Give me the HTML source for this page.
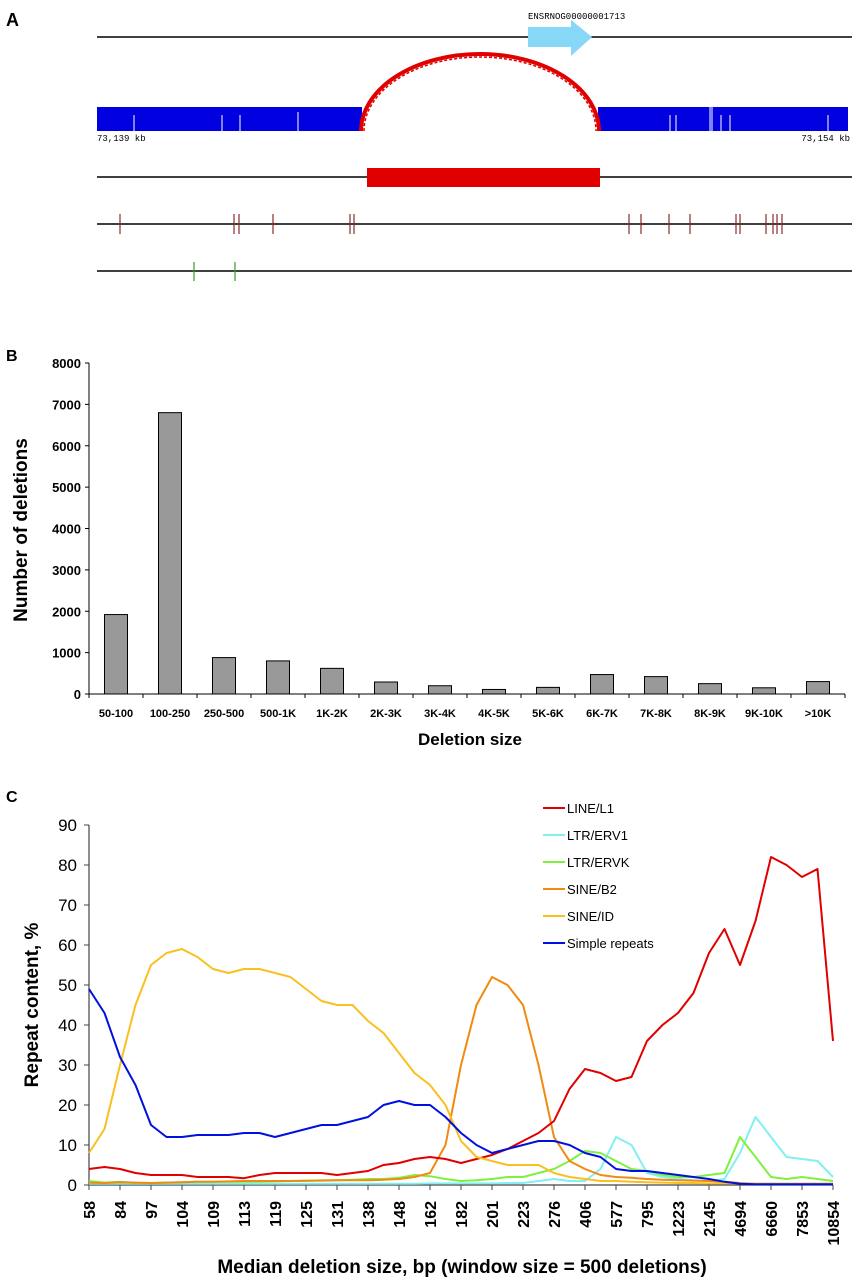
<!DOCTYPE html>
<html><head><meta charset="utf-8"><style>
html,body{margin:0;padding:0;background:#fff;}
svg{display:block;font-family:"Liberation Sans",Arial,sans-serif;}
</style></head><body>
<svg id="fig" width="852" height="1280" viewBox="0 0 852 1280" xmlns="http://www.w3.org/2000/svg">
<!-- Panel A -->
<g>
<text x="6" y="26" font-size="18" font-weight="bold">A</text>
<line x1="97" y1="37" x2="852" y2="37" stroke="#000" stroke-width="1.5"/>
<polygon points="528,27 571,27 571,20 592,37 571,56 571,47 528,47" fill="#87d7f7"/>
<text x="528" y="19" font-size="9" font-family="Liberation Mono,monospace">ENSRNOG00000001713</text>
<rect x="97" y="107" width="265" height="24" fill="#0000e0"/>
<rect x="598" y="107" width="250" height="24" fill="#0000e0"/>
<g stroke="#fff" stroke-width="1">
<line x1="134" y1="115" x2="134" y2="131"/><line x1="222" y1="115" x2="222" y2="131"/><line x1="240" y1="115" x2="240" y2="131"/><line x1="298" y1="112" x2="298" y2="131"/>
<line x1="670" y1="115" x2="670" y2="131"/><line x1="676" y1="115" x2="676" y2="131"/><line x1="710" y1="107" x2="710" y2="131"/><line x1="712" y1="107" x2="712" y2="131"/><line x1="721" y1="115" x2="721" y2="131"/><line x1="730" y1="115" x2="730" y2="131"/><line x1="828" y1="115" x2="828" y2="131"/>
</g>
<path d="M361,131 A119,77 0 0 1 599,131" fill="none" stroke="#e00000" stroke-width="4"/>
<path d="M364,131 A116,74 0 0 1 596,131" fill="none" stroke="#e00000" stroke-width="1.5" stroke-dasharray="3 2"/>
<text x="97" y="141" font-size="9" font-family="Liberation Mono,monospace">73,139 kb</text>
<text x="850" y="141" font-size="9" text-anchor="end" font-family="Liberation Mono,monospace">73,154 kb</text>
<line x1="97" y1="177" x2="852" y2="177" stroke="#000" stroke-width="1.5"/>
<rect x="367" y="168" width="233" height="19" fill="#e00000"/>
<line x1="97" y1="224" x2="852" y2="224" stroke="#000" stroke-width="1.5"/>
<g id="maroonTicks" stroke="#8b2a2a" stroke-width="1.2"></g>
<line x1="97" y1="271" x2="852" y2="271" stroke="#000" stroke-width="1.5"/>
<g stroke="#3a9a2a" stroke-width="1.2">
<line x1="194" y1="262" x2="194" y2="281"/><line x1="235" y1="262" x2="235" y2="281"/></g>
</g>
<!-- Panel B -->
<g id="panelB">
<text x="6" y="361" font-size="16" font-weight="bold">B</text>
<text transform="translate(27,530) rotate(-90)" text-anchor="middle" font-size="19" font-weight="bold">Number of deletions</text>
<text x="470" y="745" text-anchor="middle" font-size="17" font-weight="bold">Deletion size</text>
</g>
<!-- Panel C -->
<g id="panelC">
<text x="6" y="802" font-size="16" font-weight="bold">C</text>
<text transform="translate(38,1005) rotate(-90)" text-anchor="middle" font-size="19" font-weight="bold">Repeat content, %</text>
<text x="462" y="1273" text-anchor="middle" font-size="19" font-weight="bold">Median deletion size, bp (window size = 500 deletions)</text>
</g>
</svg>
<script>
var NS="http://www.w3.org/2000/svg";
var repeatMarks=[120,234,239,273,350,354,629,641,669,690,736,740,766,773,777,782];
// Panel B data
var barCats=["50-100","100-250","250-500","500-1K","1K-2K","2K-3K","3K-4K","4K-5K","5K-6K","6K-7K","7K-8K","8K-9K","9K-10K",">10K"];
var barVals=[1920,6800,880,800,620,290,200,110,160,470,420,250,150,300];
var barTicks=[0,1000,2000,3000,4000,5000,6000,7000,8000];
// Panel C data
var cTickLabels=["58","84","97","104","109","113","119","125","131","138","148","162","182","201","223","276","406","577","795","1223","2145","4694","6660","7853","10854"];
var cYTicks=[0,10,20,30,40,50,60,70,80,90];
var seriesNames=["LINE/L1","LTR/ERV1","LTR/ERVK","SINE/B2","SINE/ID","Simple repeats"];
var lineL1=[4,4.5,4,3,2.5,2.5,2.5,2,2,2,1.7,2.5,3,3,3,3,2.5,3,3.5,5,5.5,6.5,7,6.5,5.5,6.5,7.5,9,11,13,16,24,29,28,26,27,36,40,43,48,58,64,55,66,82,80,77,79,36];
var ltrERV1=[0.3,0.3,0.3,0.3,0.3,0.3,0.3,0.3,0.3,0.3,0.3,0.3,0.3,0.3,0.3,0.3,0.3,0.3,0.3,0.3,0.3,0.3,0.4,0.4,0.4,0.4,0.4,0.5,0.5,1,1.5,1,1,4,12,10,3,2,1.5,1.2,1,1.5,8,17,12,7,6.5,6,2];
var ltrERVK=[1,0.6,0.8,0.5,0.5,0.6,0.7,0.8,0.8,0.8,0.8,0.8,0.9,1,1,1.2,1.2,1.3,1.5,1.5,1.8,2.5,2.2,1.5,1,1.2,1.5,2,2,3,4,6,8.5,8,6,4,3.5,2.5,2,2,2.5,3,12,7,2,1.5,2,1.5,1];
var sineB2=[0.6,0.5,0.7,0.6,0.5,0.6,0.7,0.8,0.8,0.9,1,1,1,1,1.1,1.1,1.2,1.2,1.2,1.3,1.5,2,3,10,30,45,52,50,45,30,12,6,4,2.5,2,1.8,1.5,1.3,1.2,1.1,1,0.8,0.5,0.3,0.3,0.3,0.3,0.3,0.3];
var sineID=[8,14,30,45,55,58,59,57,54,53,54,54,53,52,49,46,45,45,41,38,33,28,25,20,11,7,6,5,5,5,3,2,1.5,1,1,0.8,0.7,0.6,0.5,0.5,0.4,0.4,0.4,0.3,0.3,0.3,0.3,0.3,0.3];
var simpleRep=[49,43,32,25,15,12,12,12.5,12.5,12.5,13,13,12,13,14,15,15,16,17,20,21,20,20,17,13,10,8,9,10,11,11,10,8,7,4,3.5,3.5,3,2.5,2,1.5,0.8,0.3,0.2,0.2,0.2,0.2,0.2,0.2];
var seriesColors=["#e00000","#80f0f0","#80f040","#f08a10","#f8c020","#0010e0"];

function mk(tag,attrs,parent){var e=document.createElementNS(NS,tag);for(var k in attrs)e.setAttribute(k,attrs[k]);parent.appendChild(e);return e;}

// Panel A marks
var mt=document.getElementById("maroonTicks");
repeatMarks.forEach(function(x){
  var l=mk("line",{x1:x,y1:214,x2:x,y2:234},mt);
  
  
});

// Panel B
var B=document.getElementById("panelB");
var bx0=89,bw=54,by0=694,by1=363,bmax=8000;
function bY(v){return by0-(v/bmax)*(by0-by1);}
function bX(i){return bx0+i*bw;}
var ax=mk("line",{x1:bx0,y1:by1,x2:bx0,y2:by0,stroke:"#000","stroke-width":1},B);


var axx=mk("line",{x1:bx0,y1:by0,x2:bX(barCats.length),y2:by0,stroke:"#000","stroke-width":1},B);


barTicks.forEach(function(t){
  mk("line",{x1:bx0-4,y1:bY(t),x2:bx0,y2:bY(t),stroke:"#000"},B);
  var tx=mk("text",{x:bx0-8,y:bY(t)+5,"text-anchor":"end","font-size":13,"font-weight":"bold"},B);
  tx.textContent=t;
  
  
});
for(var i=0;i<=barCats.length;i++){mk("line",{x1:bX(i),y1:by0,x2:bX(i),y2:by0+4,stroke:"#000"},B);}
barCats.forEach(function(c,i){
  var r=mk("rect",{x:bX(i)+bw/2-11.5,y:bY(barVals[i]),width:23,height:by0-bY(barVals[i]),fill:"#999",stroke:"#000","stroke-width":1},B);
  
  
  var t=mk("text",{x:bX(i)+bw/2,y:717,"text-anchor":"middle","font-size":11,"font-weight":"bold"},B);
  t.textContent=c;
  
  
});

// Panel C
var C=document.getElementById("panelC");
var cx0=89,cstep=31,cy0=1185,cy1=825,cmax=90;
function cY(v){return cy0-(v/cmax)*(cy0-cy1);}
function cX(i){return cx0+i*cstep;}
var cya=mk("line",{x1:cx0,y1:cy1,x2:cx0,y2:cy0,stroke:"#444","stroke-width":1.2},C);


var cxa=mk("line",{x1:cx0,y1:cy0,x2:cX(cTickLabels.length-1),y2:cy0,stroke:"#444","stroke-width":1.2},C);


cYTicks.forEach(function(t){
  mk("line",{x1:cx0-5,y1:cY(t),x2:cx0,y2:cY(t),stroke:"#444"},C);
  var tx=mk("text",{x:cx0-12,y:cY(t)+6,"text-anchor":"end","font-size":17},C);
  tx.textContent=t;
  
  
});
cTickLabels.forEach(function(l,i){
  mk("line",{x1:cX(i),y1:cy0,x2:cX(i),y2:cy0+5,stroke:"#444"},C);
  var tx=mk("text",{transform:"translate("+(cX(i)+6)+",1201) rotate(-90)","text-anchor":"end","font-size":16,"font-weight":"bold"},C);
  tx.textContent=l;
  
  
});
var allSeries=[lineL1,ltrERV1,ltrERVK,sineB2,sineID,simpleRep];
var drawOrder=[1,2,3,0,4,5];
drawOrder.forEach(function(s){
  var d=allSeries[s].map(function(v,j){return (j?"L":"M")+(cx0+j*cstep/2).toFixed(1)+","+cY(v).toFixed(1);}).join(" ");
  var p=mk("path",{d:d,fill:"none",stroke:seriesColors[s],"stroke-width":2,"stroke-linejoin":"round"},C);
  
  
});
seriesNames.forEach(function(n,i){
  var y=808+i*27;
  var g=mk("g",{},C);
  
  
  mk("line",{x1:543,y1:y,x2:565,y2:y,stroke:seriesColors[i],"stroke-width":2},g);
  var t=mk("text",{x:567,y:y+5,"font-size":13},g);
  t.textContent=n;
});
</script>
</body></html>
